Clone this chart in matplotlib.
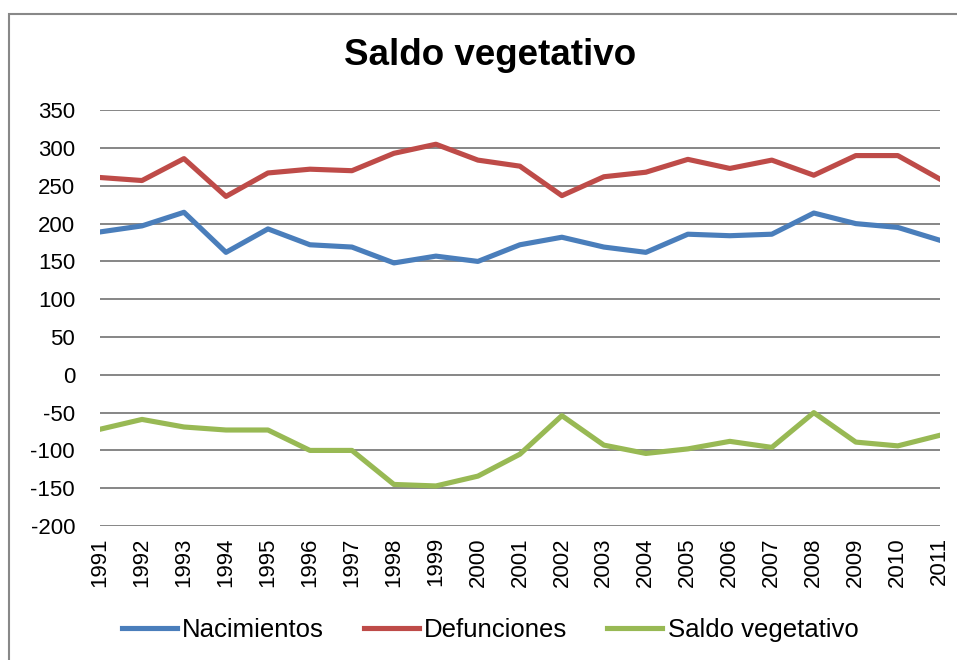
import matplotlib.pyplot as plt
from matplotlib.patches import Rectangle

plt.rcParams['font.family'] = ['Liberation Sans', 'DejaVu Sans']
plt.rcParams['axes.unicode_minus'] = False

years = list(range(1991, 2012))
nacimientos = [189, 197, 215, 162, 193, 172, 169, 148, 157, 150, 172,
               182, 169, 162, 186, 184, 186, 214, 200, 195, 178]
defunciones = [261, 257, 286, 236, 267, 272, 270, 293, 305, 284, 276,
               237, 262, 268, 285, 273, 284, 264, 290, 290, 259]
saldo = [-72, -59, -69, -73, -73, -100, -100, -145, -147, -134, -105,
         -54, -93, -104, -98, -88, -96, -50, -89, -94, -80]

fig = plt.figure(figsize=(9.57, 6.6), dpi=100)
ax = fig.add_axes([0.1045, 0.203, 0.8775, 0.63])

ax.plot(years, nacimientos, color='#4A7EBB', lw=3.7, label='Nacimientos')
ax.plot(years, defunciones, color='#BE4B48', lw=3.7, label='Defunciones')
ax.plot(years, saldo, color='#98B954', lw=3.7, label='Saldo vegetativo')

ax.set_xlim(1991, 2011)
ax.set_ylim(-200, 350)
ax.set_yticks(range(-200, 351, 50))
ax.set_xticks(years)
ax.set_xticklabels([str(y) for y in years], rotation=90)
ax.tick_params(axis='both', length=0, labelsize=16)
ax.tick_params(axis='y', pad=18)
ax.tick_params(axis='x', pad=8)
ax.grid(axis='y', color='#868686', lw=1.4)
ax.set_axisbelow(True)
for s in ax.spines.values():
    s.set_visible(False)

fig.text(0.512, 0.916, 'Saldo vegetativo', ha='center', va='center',
         fontsize=26.5, fontweight='bold')

fig.legend(loc='center', bbox_to_anchor=(0.512, 0.045), ncol=3, frameon=False,
           fontsize=18.5, handlelength=2.15, handletextpad=0.2, columnspacing=1.55)

fig.patches.append(Rectangle((0.0094, -0.05), 1.1, 1.029, transform=fig.transFigure,
                             fill=False, edgecolor='#888888', lw=1.5))

fig.savefig('out.png', dpi=100)
